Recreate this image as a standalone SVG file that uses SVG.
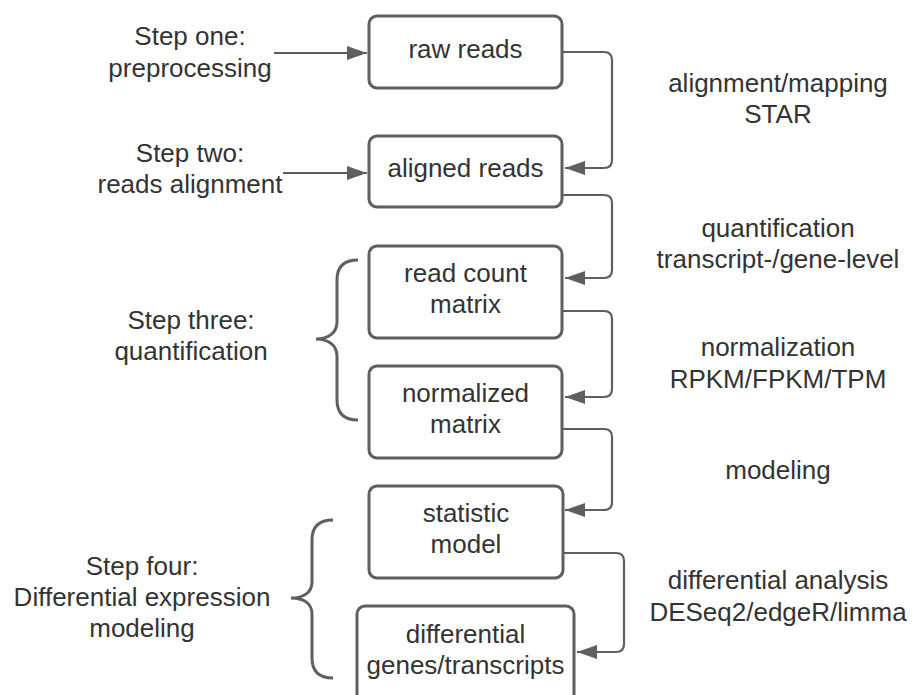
<svg xmlns="http://www.w3.org/2000/svg" width="914" height="695" viewBox="0 0 914 695">
<style>
.box{fill:#fff;stroke:#5f5f5f;stroke-width:3}
.t{font-family:"Liberation Sans",Arial,sans-serif;font-size:26px;fill:#333;text-anchor:middle}
.c{fill:none;stroke:#5f5f5f;stroke-width:2.2}
.br{fill:none;stroke:#5f5f5f;stroke-width:3}
</style>
<defs>
<marker id="ah" viewBox="0 0 20 14" markerWidth="20" markerHeight="14" refX="20" refY="7" orient="auto" markerUnits="userSpaceOnUse">
<path d="M0,0 L20,7 L0,14 z" fill="#5f5f5f"/>
</marker>
</defs>
<rect width="914" height="695" fill="#fff"/>
<g id="connectors">
<path class="c" d="M274,53 H367" marker-end="url(#ah)"/>
<path class="c" d="M283,173 H367" marker-end="url(#ah)"/>
<path class="c" d="M563,52 H604 Q612,52 612,60 V160 Q612,168 604,168 H565" marker-end="url(#ah)"/>
<path class="c" d="M563,195 H604 Q612,195 612,203 V270 Q612,278 604,278 H565" marker-end="url(#ah)"/>
<path class="c" d="M563,311 H604 Q612,311 612,319 V389 Q612,397 604,397 H565" marker-end="url(#ah)"/>
<path class="c" d="M563,429 H604 Q612,429 612,437 V502 Q612,510 604,510 H565" marker-end="url(#ah)"/>
<path class="c" d="M564,553 H616 Q624,553 624,561 V644 Q624,652 616,652 H577" marker-end="url(#ah)"/>
</g>
<g id="step1"><text class="t" x="190" y="45">Step one:</text><text class="t" x="190" y="77">preprocessing</text></g>
<g id="step2"><text class="t" x="190" y="162">Step two:</text><text class="t" x="190" y="193">reads alignment</text></g>
<g id="step3"><text class="t" x="191" y="329">Step three:</text><text class="t" x="191" y="360">quantification</text>
<path class="br" d="M358,260 C345,260 337,266 337,280 L337,322 C337,333 328,339 316,339 C328,339 337,345 337,356 L337,400 C337,414 345,420 358,420"/></g>
<g id="step4"><text class="t" x="142" y="575">Step four:</text><text class="t" x="142" y="606">Differential expression</text><text class="t" x="142" y="637">modeling</text>
<path class="br" d="M333,520 C320,520 312,526 312,540 L312,582 C312,593 303,598 291,598 C303,598 312,603 312,614 L312,658 C312,672 320,678 333,678"/></g>
<g id="raw"><rect class="box" x="369" y="16" width="193" height="72" rx="8"/><text class="t" x="465.5" y="58">raw reads</text></g>
<g id="aligned"><rect class="box" x="369" y="136" width="193" height="71" rx="8"/><text class="t" x="465.5" y="177">aligned reads</text></g>
<g id="count"><rect class="box" x="369" y="246" width="193" height="92" rx="8"/><text class="t" x="465.5" y="282">read count</text><text class="t" x="465.5" y="313">matrix</text></g>
<g id="norm"><rect class="box" x="369" y="366" width="193" height="92" rx="8"/><text class="t" x="465.5" y="402">normalized</text><text class="t" x="465.5" y="433">matrix</text></g>
<g id="stat"><rect class="box" x="369" y="486" width="194" height="92" rx="8"/><text class="t" x="466" y="522">statistic</text><text class="t" x="466" y="553">model</text></g>
<g id="diff"><rect class="box" x="357" y="606" width="217" height="96" rx="8"/><text class="t" x="465.5" y="643">differential</text><text class="t" x="465.5" y="674">genes/transcripts</text></g>
<g id="lbl1"><text class="t" x="778" y="92">alignment/mapping</text><text class="t" x="778" y="123">STAR</text></g>
<g id="lbl2"><text class="t" x="778" y="237">quantification</text><text class="t" x="778" y="268">transcript-/gene-level</text></g>
<g id="lbl3"><text class="t" x="778" y="356">normalization</text><text class="t" x="778" y="388">RPKM/FPKM/TPM</text></g>
<g id="lbl4"><text class="t" x="778" y="479">modeling</text></g>
<g id="lbl5"><text class="t" x="778" y="589">differential analysis</text><text class="t" x="778" y="621">DESeq2/edgeR/limma</text></g>
</svg>
